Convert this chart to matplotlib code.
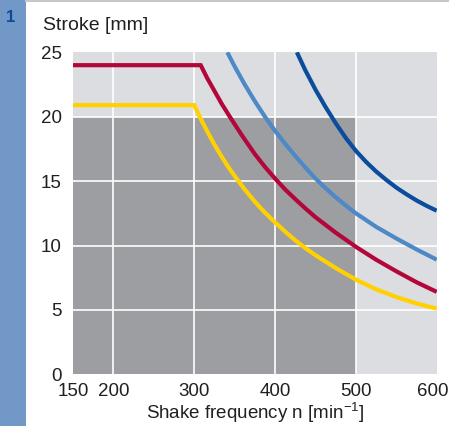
import matplotlib
matplotlib.use("Agg")
import matplotlib.pyplot as plt
from matplotlib.transforms import offset_copy

# shake frequency (min^-1) vs stroke (mm)
red_x = [150, 308, 316, 325, 334, 344, 359, 375, 387.5, 400, 412.5, 425, 437.5, 450,
         475, 500, 525, 550, 575, 600]
red_y = [24, 24, 23.0, 22.0, 21.0, 20.0, 18.55, 17.1, 16.1, 15.2, 14.35, 13.6, 12.88, 12.2,
         11.0, 9.9, 8.9, 8.0, 7.15, 6.4]

yellow_x = [150, 300, 307.5, 315, 323.5, 332, 341, 350, 362.5, 375, 387.5, 400, 412.5, 425,
            437.5, 450, 475, 500, 525, 550, 575, 600]
yellow_y = [20.9, 20.9, 19.9, 19.0, 18.0, 17.1, 16.2, 15.4, 14.35, 13.4, 12.55, 11.8, 11.08, 10.4,
            9.8, 9.25, 8.25, 7.35, 6.6, 6.0, 5.5, 5.1]

lightblue_x = [341, 350, 362.5, 375, 387.5, 400, 412.5, 425, 437.5, 450, 462.5, 475, 487.5,
               500, 525, 550, 575, 600]
lightblue_y = [25, 23.9, 22.5, 21.2, 20.0, 18.9, 17.9, 16.95, 16.05, 15.2, 14.45, 13.75, 13.1,
               12.5, 11.45, 10.55, 9.7, 8.9]

darkblue_x = [427, 437.5, 450, 462.5, 475, 487.5, 500, 512.5, 525, 537.5, 550, 562.5, 575, 587.5, 600]
darkblue_y = [25, 23.6, 22.1, 20.75, 19.5, 18.35, 17.35, 16.5, 15.75, 15.1, 14.5, 13.98, 13.5, 13.08, 12.7]

x_ticks = [150, 200, 300, 400, 500, 600]
y_ticks = [0, 5, 10, 15, 20, 25]

plt.rcParams['font.family'] = ['Liberation Sans', 'DejaVu Sans']
txt = '#231f20'

fig = plt.figure(figsize=(4.49, 4.26), dpi=100)
fig.patch.set_facecolor('white')

# blue strip at the left with the figure number
fig.patches.append(plt.Rectangle((0, 0), 26 / 449, 1, transform=fig.transFigure,
                                 facecolor='#7298c8', edgecolor='none'))
fig.lines.append(plt.Line2D([26 / 449, 1], [1 - 1 / 426, 1 - 1 / 426], transform=fig.transFigure,
                            color='#c6c7c9', lw=1.5))
fig.text(11 / 449, 1 - 17.5 / 426, '1', color='#0d4a9a', fontsize=12, fontweight='bold',
         ha='center', va='center')

ax = fig.add_axes([73 / 449, 1 - 374.3 / 426, (436.7 - 73) / 449, (374.3 - 52.3) / 426])
ax.set_facecolor('#dcdde0')
ax.fill_between([150, 500], 0, 20, color='#9d9ea2', lw=0, zorder=0.5)

for xv in [200, 300, 400, 500]:
    ax.axvline(xv, color='white', lw=1.2, zorder=1)
for yv in [5, 10, 15, 20]:
    ax.axhline(yv, color='white', lw=1.2, zorder=1)

style = dict(lw=3, solid_capstyle='butt', solid_joinstyle='miter', zorder=3)
ax.plot(yellow_x, yellow_y, color='#ffd100', **style)
ax.plot(red_x, red_y, color='#b3063b', **style)
ax.plot(lightblue_x, lightblue_y, color='#4d89c7', **style)
ax.plot(darkblue_x, darkblue_y, color='#0b4c9c', **style)

ax.set_xlim(150, 600)
ax.set_ylim(0, 25)
ax.set_xticks(x_ticks)
ax.set_yticks(y_ticks)
ax.tick_params(length=0, labelsize=13.5, colors=txt)
ax.tick_params(axis='x', pad=6.5)
ax.tick_params(axis='y', pad=8)
for s in ax.spines.values():
    s.set_visible(False)

# last x label sits a little left so it stays inside the figure
last = ax.get_xticklabels()[-1]
last.set_transform(offset_copy(last.get_transform(), fig=fig, x=-4, units='dots'))

ax.set_xlabel('Shake frequency n [min$^{\\mathregular{-1}}$]', fontsize=13.5, color=txt, labelpad=0)
fig.text(43 / 449, 1 - 25 / 426, 'Stroke [mm]', fontsize=14, color=txt, ha='left', va='center')

fig.savefig('out.png', dpi=100)
